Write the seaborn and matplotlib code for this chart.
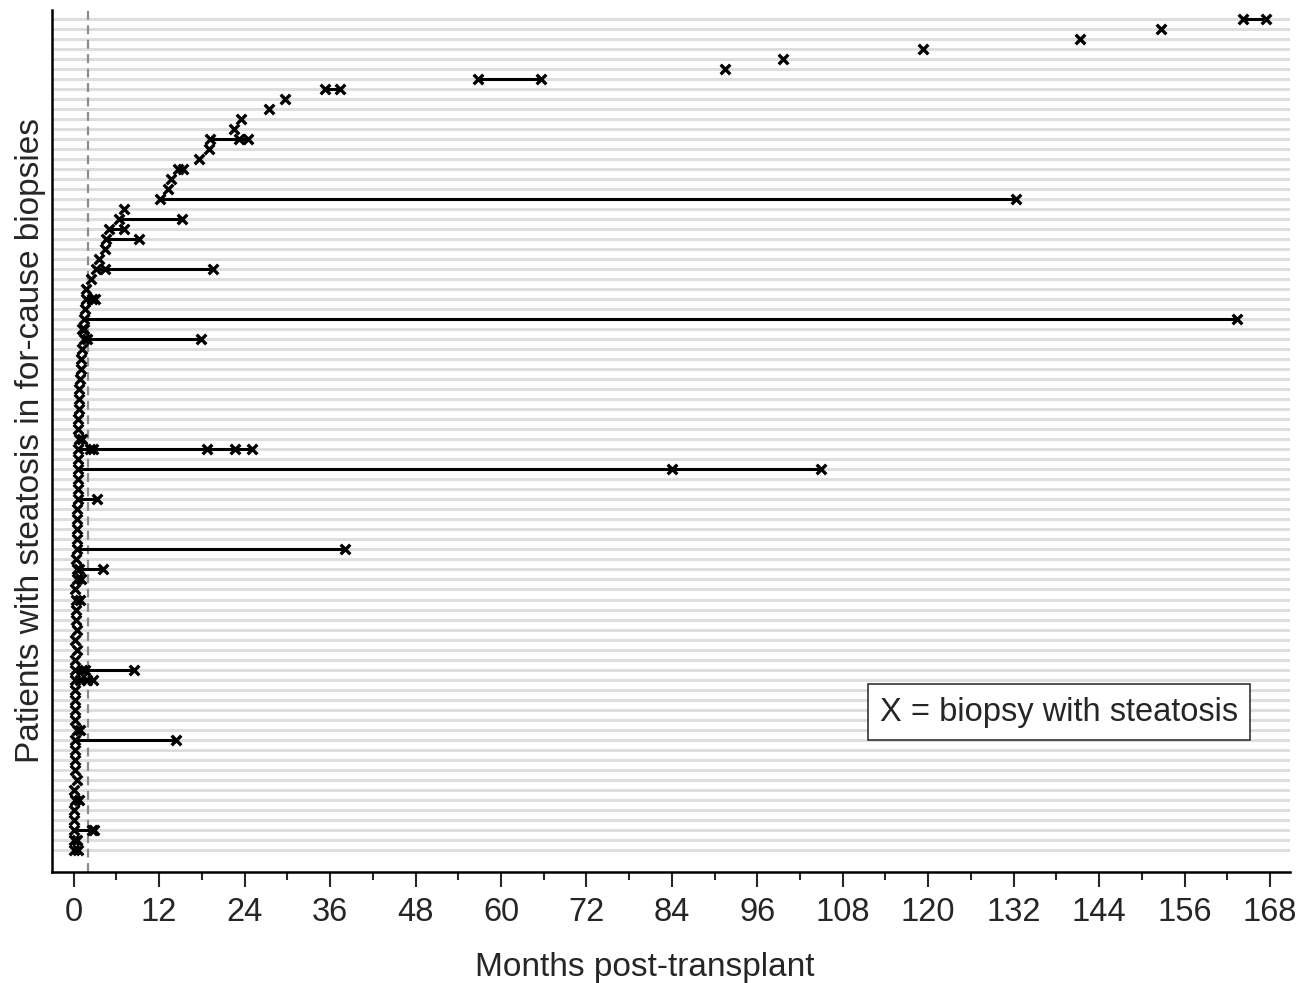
import numpy as np
import pandas as pd
import seaborn as sns
import matplotlib.pyplot as plt
from matplotlib.ticker import MultipleLocator

# months post-transplant of every biopsy with steatosis, one list per patient (top row first)
biopsy_months = [
    [164.2, 167.5], [152.7], [141.3], [119.3], [99.6], [91.5], [56.8, 65.6], [35.3, 37.4],
    [29.7], [27.4], [23.5], [22.5], [19.1, 23.2, 24.5], [19.0], [17.6], [14.7, 15.3],
    [13.7], [13.3], [12.1, 132.3], [7.0], [6.4, 15.2], [5.0, 7.1], [4.5, 9.2], [4.4],
    [3.5], [3.1, 4.4, 19.5], [2.4], [1.7], [1.7, 2.5, 3.0], [1.6], [1.4, 163.4], [1.2, 1.5],
    [1.4, 1.8, 17.9], [1.1], [1.0], [1.0], [0.9], [0.8], [0.8], [0.8],
    [0.65], [0.65], [0.8, 1.1], [0.65, 2.3, 2.75, 18.7, 22.7, 25.0], [0.55], [0.65, 84.0, 105.0], [0.55], [0.55],
    [0.55, 3.2], [0.5], [0.5], [0.5], [0.4], [0.4, 38.1], [0.3], [0.4, 0.8, 4.1],
    [0.5, 1.0], [0.2], [0.3, 0.9], [0.3], [0.3], [0.4], [0.2], [0.4],
    [0.2], [0.2, 1.1, 1.6, 8.4], [0.2, 0.9, 1.8, 2.75], [0.2], [0.2], [0.2], [0.2], [0.4, 0.9],
    [0.2, 14.4], [0.2], [0.2], [0.2], [0.4], [0.05], [0.2, 0.8], [0.05],
    [0.05], [0.05, 2.5, 2.9], [0.0, 0.4], [0.0, 0.6],
]
cutoff_month = 2
month_ticks = np.arange(0, 169, 12)

rows = []
for i, ms in enumerate(biopsy_months):
    for m in ms:
        rows.append({'patient': i, 'month': m})
df = pd.DataFrame(rows)
n_pat = len(biopsy_months)

sns.set_style('white')
plt.rcParams['font.family'] = ['Liberation Sans', 'DejaVu Sans']

fig = plt.figure(figsize=(13.14, 9.83), dpi=100)
ax = fig.add_axes([0.0393, 0.1132, 0.9424, 0.8766])

# one light grey line per patient
ax.hlines(range(n_pat), -3.1, 170.8, color='#dedede', lw=2.2, zorder=0)
ax.axvline(cutoff_month, color='#8c8c8c', lw=1.6, ls=(0, (4, 2.5)), zorder=1)

sns.lineplot(data=df, x='month', y='patient', units='patient', estimator=None,
             color='black', lw=2.2, sort=True, ax=ax, zorder=2)
sns.scatterplot(data=df, x='month', y='patient', marker='x', color='black',
                s=48, linewidth=2.4, ax=ax, zorder=3)

ax.set_xlim(-3.1, 170.8)
ax.set_ylim(85.2, -0.9)
ax.set_xticks(month_ticks)
ax.xaxis.set_minor_locator(MultipleLocator(6))
ax.tick_params(axis='x', which='major', length=11, width=1.5, labelsize=23.5, pad=7, bottom=True)
ax.tick_params(axis='x', which='minor', length=6, width=1.5, bottom=True)
ax.set_yticks([])
for s in ['top', 'right']:
    ax.spines[s].set_visible(False)
for s in ['left', 'bottom']:
    ax.spines[s].set_color('black')
    ax.spines[s].set_linewidth(1.8)

ax.set_xlabel('Months post-transplant', fontsize=24)
ax.xaxis.set_label_coords(0.479, -0.093)
ax.set_ylabel('Patients with steatosis in for-cause biopsies', fontsize=24, labelpad=4)

ax.text(0.8135, 0.1853, 'X = biopsy with steatosis', transform=ax.transAxes,
        ha='center', va='center', fontsize=23.5,
        bbox=dict(boxstyle='square,pad=0.38', fc='white', ec='#333333', lw=1.2))

fig.savefig('out.png', dpi=100)
